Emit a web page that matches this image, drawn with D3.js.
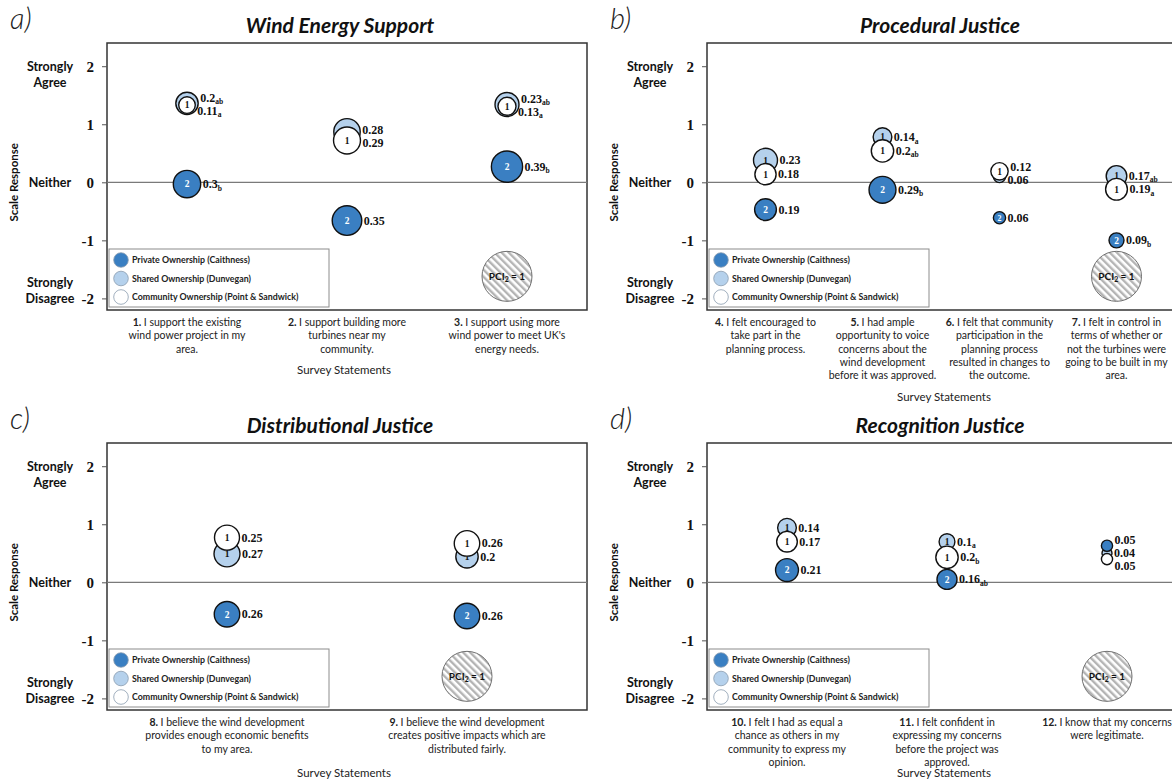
<!DOCTYPE html>
<html>
<head>
<meta charset="utf-8">
<script src="https://cdn.jsdelivr.net/npm/d3@7"></script>
<style>
  body { margin: 0; background: #fff; }
</style>
</head>
<body>
<script>
// Ownership groups, order inside every data row: [private, shared, community]
var groups = ["Private Ownership (Caithness)", "Shared Ownership (Dunvegan)", "Community Ownership (Point & Sandwick)"];
var fills = ["#3a7fc2", "#b5d1ec", "#ffffff"];
var yTicks = [-2, -1, 0, 1, 2];

// a) Wind Energy Support
var numA = ["1.", "2.", "3."];
var textA = [["I support the existing", "wind power project in my", "area."],
             ["I support building more", "turbines near my", "community."],
             ["I support using more", "wind power to meet UK's", "energy needs."]];
var meanA = [[-0.03, 1.36, 1.33], [-0.66, 0.87, 0.72], [0.27, 1.34, 1.31]];
var pciA  = [[0.3, 0.2, 0.11], [0.35, 0.28, 0.29], [0.39, 0.23, 0.13]];
var sigA  = [["b", "ab", "a"], ["", "", ""], ["b", "ab", "a"]];
var grpA  = [["2", "1", "1"], ["2", "1", "1"], ["2", "1", "1"]];

// b) Procedural Justice
var numB = ["4.", "5.", "6.", "7."];
var textB = [["I felt encouraged to", "take part in the", "planning process."],
             ["I had ample", "opportunity to voice", "concerns about the", "wind development", "before it was approved."],
             ["I felt that community", "participation in the", "planning process", "resulted in changes to", "the outcome."],
             ["I felt in control in", "terms of whether or", "not the turbines were", "going to be built in my", "area."]];
var meanB = [[-0.47, 0.38, 0.14], [-0.13, 0.78, 0.54], [-0.61, 0.10, 0.19], [-1.0, 0.11, -0.12]];
var pciB  = [[0.19, 0.23, 0.18], [0.29, 0.14, 0.2], [0.06, 0.06, 0.12], [0.09, 0.17, 0.19]];
var sigB  = [["", "", ""], ["b", "a", "ab"], ["", "", ""], ["b", "ab", "a"]];
var grpB  = [["2", "1", "1"], ["2", "1", "1"], ["2", "1", "1"], ["2", "1", "1"]];

// c) Distributional Justice
var numC = ["8.", "9."];
var textC = [["I believe the wind development", "provides enough economic benefits", "to my area."],
             ["I believe the wind development", "creates positive impacts which are", "distributed fairly."]];
var meanC = [[-0.55, 0.49, 0.77], [-0.58, 0.44, 0.67]];
var pciC  = [[0.26, 0.27, 0.25], [0.26, 0.2, 0.26]];
var sigC  = [["", "", ""], ["", "", ""]];
var grpC  = [["2", "1", "1"], ["2", "1", "1"]];

// d) Recognition Justice
var numD = ["10.", "11.", "12."];
var textD = [["I felt I had as equal a", "chance as others in my", "community to express my", "opinion."],
             ["I felt confident in", "expressing my concerns", "before the project was", "approved."],
             ["I know that my concerns", "were legitimate."]];
var meanD = [[0.21, 0.94, 0.70], [0.05, 0.70, 0.43], [0.63, 0.50, 0.40]];
var pciD  = [[0.21, 0.14, 0.17], [0.16, 0.1, 0.2], [0.05, 0.04, 0.05]];
var sigD  = [["", "", ""], ["ab", "a", "b"], ["", "", ""]];
var grpD  = [["2", "1", "1"], ["2", "1", "1"], ["", "", ""]];

var sans = "Lato, 'Open Sans', sans-serif",
    serif = "'Liberation Serif', 'DejaVu Serif', serif";

var svg = d3.select("body")
	.append("svg")
	.attr("width", 1172)
	.attr("height", 782);

// hatch for the PCI reference circle
var pat = svg.append("defs").append("pattern")
	.attr("id", "hatch")
	.attr("patternUnits", "userSpaceOnUse")
	.attr("width", 5)
	.attr("height", 5)
	.attr("patternTransform", "rotate(-45)");
pat.append("rect").attr("width", 5).attr("height", 5).attr("fill", "#fff");
pat.append("rect").attr("width", 2.4).attr("height", 5).attr("fill", "#b4b4b4");

var r = d3.scaleSqrt().domain([0, 1]).range([0, 25]);

function drawPanel(p) {
	var g = svg.append("g");
	var left = p.ox + 107, right = p.ox + p.right,
		top = p.oy + 43, bottom = p.oy + 310;

	var y = d3.scaleLinear().domain([-2.2, 2.4]).range([bottom, top]);
	var x = d3.scalePoint().domain(p.num).range([left, right]).padding(0.5);

	// panel letter and title
	g.append("text")
		.text(p.letter)
		.attr("x", p.ox + 10)
		.attr("y", p.oy + 29)
		.attr("font-family", sans)
		.attr("font-style", "italic")
		.attr("font-weight", 300)
		.attr("font-size", "29px")
		.attr("fill", "#222");
	g.append("text")
		.text(p.title)
		.attr("x", p.ox + 340)
		.attr("y", p.oy + 33)
		.attr("text-anchor", "middle")
		.attr("font-family", sans)
		.attr("font-style", "italic")
		.attr("font-weight", "bold")
		.attr("font-size", "21px")
		.attr("fill", "#111");

	// frame and zero line
	g.append("rect")
		.attr("x", left)
		.attr("y", top)
		.attr("width", right - left)
		.attr("height", bottom - top)
		.attr("fill", "none")
		.attr("stroke", "#333")
		.attr("stroke-width", 1.5);
	g.append("line")
		.attr("x1", left)
		.attr("x2", right)
		.attr("y1", y(0))
		.attr("y2", y(0))
		.attr("stroke", "#7a7a7a")
		.attr("stroke-width", 1.3);

	// y axis
	var axis = g.append("g")
		.attr("transform", "translate(" + left + ",0)")
		.call(d3.axisLeft(y).tickValues(yTicks).tickSize(5).tickPadding(8)
			.tickFormat(function(d) { return String(d); }));
	axis.select(".domain").remove();
	axis.selectAll("line").attr("stroke", "#555");
	axis.selectAll("text")
		.attr("font-family", serif)
		.attr("font-weight", "bold")
		.attr("font-size", "15px")
		.attr("fill", "#111");

	// scale anchors
	var anchors = [[2, ["Strongly", "Agree"], 0], [0, ["Neither"], 0], [-2, ["Strongly", "Disagree"], 1]];
	anchors.forEach(function(a) {
		a[1].forEach(function(line, i) {
			g.append("text")
				.text(line)
				.attr("x", p.ox + 50)
				.attr("y", y(a[0]) + (i - a[2]) * 16 + 4.5)
				.attr("text-anchor", "middle")
				.attr("font-family", sans)
				.attr("font-weight", "bold")
				.attr("font-size", "12.5px")
				.attr("fill", "#111");
		});
	});
	g.append("text")
		.text("Scale Response")
		.attr("transform", "translate(" + (p.ox + 18) + "," + y(0) + ") rotate(-90)")
		.attr("text-anchor", "middle")
		.attr("font-family", sans)
		.attr("font-weight", "bold")
		.attr("font-size", "11.5px")
		.attr("fill", "#111");

	// statement labels
	p.num.forEach(function(n, i) {
		p.text[i].forEach(function(line, j) {
			var t = g.append("text")
				.attr("x", x(n))
				.attr("y", bottom + 16 + j * 13.3)
				.attr("text-anchor", "middle")
				.attr("font-family", sans)
				.attr("font-size", "10.5px")
				.attr("fill", "#222");
			if (j == 0) t.append("tspan").attr("font-weight", "bold").text(n + " ");
			t.append("tspan").text(line);
		});
	});
	g.append("text")
		.text("Survey Statements")
		.attr("x", p.ox + 344)
		.attr("y", p.oy + p.surveyY)
		.attr("text-anchor", "middle")
		.attr("font-family", sans)
		.attr("font-size", "11.5px")
		.attr("fill", "#222");

	// bubbles: shared first, community over it, private last
	var rows = [];
	p.num.forEach(function(n, i) {
		[1, 2, 0].forEach(function(k) {
			rows.push({s: n, k: k, m: p.mean[i][k], v: p.pci[i][k], sig: p.sig[i][k], grp: p.grp[i][k]});
		});
	});
	var bub = g.selectAll("g.bubble")
		.data(rows)
		.enter()
		.append("g")
		.attr("transform", function(d) { return "translate(" + x(d.s) + "," + y(d.m) + ")"; });
	bub.append("circle")
		.attr("r", function(d) { return r(d.v); })
		.attr("fill", function(d) { return fills[d.k]; })
		.attr("stroke", "#111")
		.attr("stroke-width", 1.4);
	bub.append("text")
		.text(function(d) { return d.grp; })
		.attr("dy", "0.35em")
		.attr("text-anchor", "middle")
		.attr("font-family", serif)
		.attr("font-weight", "bold")
		.attr("font-size", function(d) { return Math.min(9.5, r(d.v) * 1.3) + "px"; })
		.attr("fill", function(d) { return d.k == 0 ? "#fff" : "#111"; });

	// value labels, nudged apart where bubbles stack
	p.num.forEach(function(n) {
		var items = rows.filter(function(d) { return d.s == n; })
			.map(function(d) { return {d: d, ly: y(d.m)}; })
			.sort(function(a, b) { return a.ly - b.ly; });
		for (var it = 0; it < 40; it++) {
			for (var i = 1; i < items.length; i++) {
				var gap = items[i].ly - items[i - 1].ly;
				if (gap < 13) {
					items[i - 1].ly -= (13 - gap) / 2;
					items[i].ly += (13 - gap) / 2;
				}
			}
		}
		items.forEach(function(o) {
			var t = g.append("text")
				.attr("x", x(n) + r(o.d.v) + 2)
				.attr("y", o.ly + 4)
				.attr("font-family", serif)
				.attr("font-weight", "bold")
				.attr("font-size", "12px")
				.attr("fill", "#111");
			t.append("tspan").text(String(o.d.v));
			if (o.d.sig) t.append("tspan").attr("dy", 2.5).attr("font-size", "7.5px").text(o.d.sig);
		});
	});

	// PCI = 1 reference size
	var last = p.num[p.num.length - 1];
	g.append("circle")
		.attr("cx", x(last))
		.attr("cy", y(-1.62))
		.attr("r", r(1))
		.attr("fill", "url(#hatch)")
		.attr("stroke", "#707070")
		.attr("stroke-width", 1);
	var pt = g.append("text")
		.attr("x", x(last))
		.attr("y", y(-1.62) + 3.5)
		.attr("text-anchor", "middle")
		.attr("font-family", sans)
		.attr("font-weight", "bold")
		.attr("font-size", "10px")
		.attr("fill", "#111");
	pt.append("tspan").text("PCI");
	pt.append("tspan").attr("dy", 2).attr("font-size", "7px").text("2");
	pt.append("tspan").attr("dy", -2).text(" = 1");

	// legend
	var lg = g.append("g").attr("transform", "translate(" + (left + 2) + "," + (bottom - 61) + ")");
	lg.append("rect")
		.attr("width", 220)
		.attr("height", 58)
		.attr("fill", "#fff")
		.attr("stroke", "#8c8c8c")
		.attr("stroke-width", 1);
	groups.forEach(function(name, k) {
		lg.append("circle")
			.attr("cx", 12)
			.attr("cy", 11 + k * 18.5)
			.attr("r", 7.3)
			.attr("fill", fills[k])
			.attr("stroke", "#8a9cae")
			.attr("stroke-width", 0.8);
		lg.append("text")
			.text(name)
			.attr("x", 23)
			.attr("y", 14 + k * 18.5)
			.attr("font-family", sans)
			.attr("font-weight", "bold")
			.attr("font-size", "8.8px")
			.attr("fill", "#222");
	});
}

drawPanel({ox: 0, oy: 0, right: 587, surveyY: 374, letter: "a)", title: "Wind Energy Support",
	num: numA, text: textA, mean: meanA, pci: pciA, sig: sigA, grp: grpA});
drawPanel({ox: 600, oy: 0, right: 575, surveyY: 401, letter: "b)", title: "Procedural Justice",
	num: numB, text: textB, mean: meanB, pci: pciB, sig: sigB, grp: grpB});
drawPanel({ox: 0, oy: 400, right: 587, surveyY: 377, letter: "c)", title: "Distributional Justice",
	num: numC, text: textC, mean: meanC, pci: pciC, sig: sigC, grp: grpC});
drawPanel({ox: 600, oy: 400, right: 587, surveyY: 377, letter: "d)", title: "Recognition Justice",
	num: numD, text: textD, mean: meanD, pci: pciD, sig: sigD, grp: grpD});
</script>
</body>
</html>
